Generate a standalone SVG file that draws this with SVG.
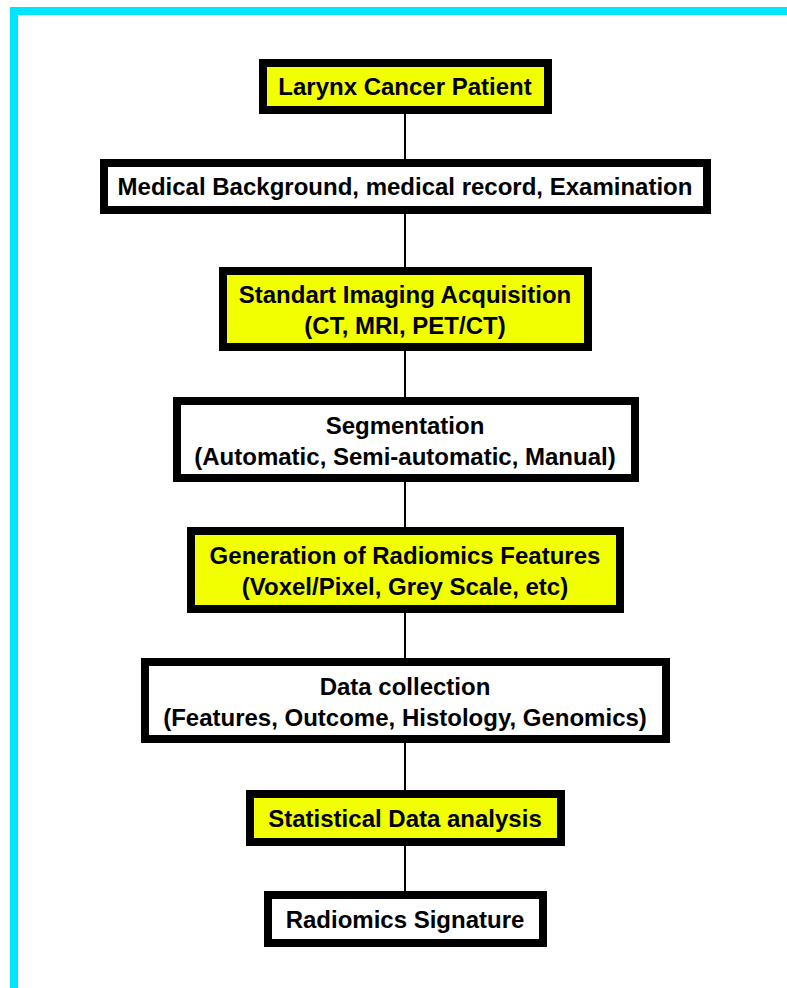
<svg xmlns="http://www.w3.org/2000/svg" width="787" height="988" viewBox="0 0 787 988">
<style>
.box{stroke:#000;stroke-width:8}
.y{fill:#F2FF00}
.w{fill:#fff}
.t{font-family:"Liberation Sans",Arial,sans-serif;font-weight:bold;font-size:24px;fill:#000;text-anchor:middle}
.c{stroke:#000;stroke-width:2;fill:none}
</style>
<rect x="0" y="0" width="787" height="988" fill="#fff"/>
<rect x="10" y="7" width="777" height="8" fill="#00E5FF"/>
<rect x="10" y="7" width="8" height="981" fill="#00E5FF"/>
<g id="connectors">
<line class="c" x1="405" y1="114" x2="405" y2="159"/>
<line class="c" x1="405" y1="214" x2="405" y2="267"/>
<line class="c" x1="405" y1="351" x2="405" y2="397"/>
<line class="c" x1="405" y1="482" x2="405" y2="527"/>
<line class="c" x1="405" y1="613" x2="405" y2="658"/>
<line class="c" x1="405" y1="743" x2="405" y2="790"/>
<line class="c" x1="405" y1="846" x2="405" y2="891"/>
</g>
<g id="n1"><rect class="box y" x="263" y="63" width="285" height="47"/><text class="t" x="405" y="95">Larynx Cancer Patient</text></g>
<g id="n2"><rect class="box w" x="104" y="163" width="603" height="47"/><text class="t" x="405" y="195">Medical Background, medical record, Examination</text></g>
<g id="n3"><rect class="box y" x="223" y="271" width="365" height="76"/><text class="t" x="405" y="303">Standart Imaging Acquisition</text><text class="t" x="405" y="334">(CT, MRI, PET/CT)</text></g>
<g id="n4"><rect class="box w" x="177" y="401" width="458" height="77"/><text class="t" x="405" y="434">Segmentation</text><text class="t" x="405" y="465">(Automatic, Semi-automatic, Manual)</text></g>
<g id="n5"><rect class="box y" x="191" y="531" width="429" height="78"/><text class="t" x="405" y="564">Generation of Radiomics Features</text><text class="t" x="405" y="595">(Voxel/Pixel, Grey Scale, etc)</text></g>
<g id="n6"><rect class="box w" x="145" y="662" width="521" height="77"/><text class="t" x="405" y="695">Data collection</text><text class="t" x="405" y="726">(Features, Outcome, Histology, Genomics)</text></g>
<g id="n7"><rect class="box y" x="250" y="794" width="311" height="48"/><text class="t" x="405" y="827">Statistical Data analysis</text></g>
<g id="n8"><rect class="box w" x="268" y="895" width="275" height="48"/><text class="t" x="405" y="928">Radiomics Signature</text></g>
</svg>
